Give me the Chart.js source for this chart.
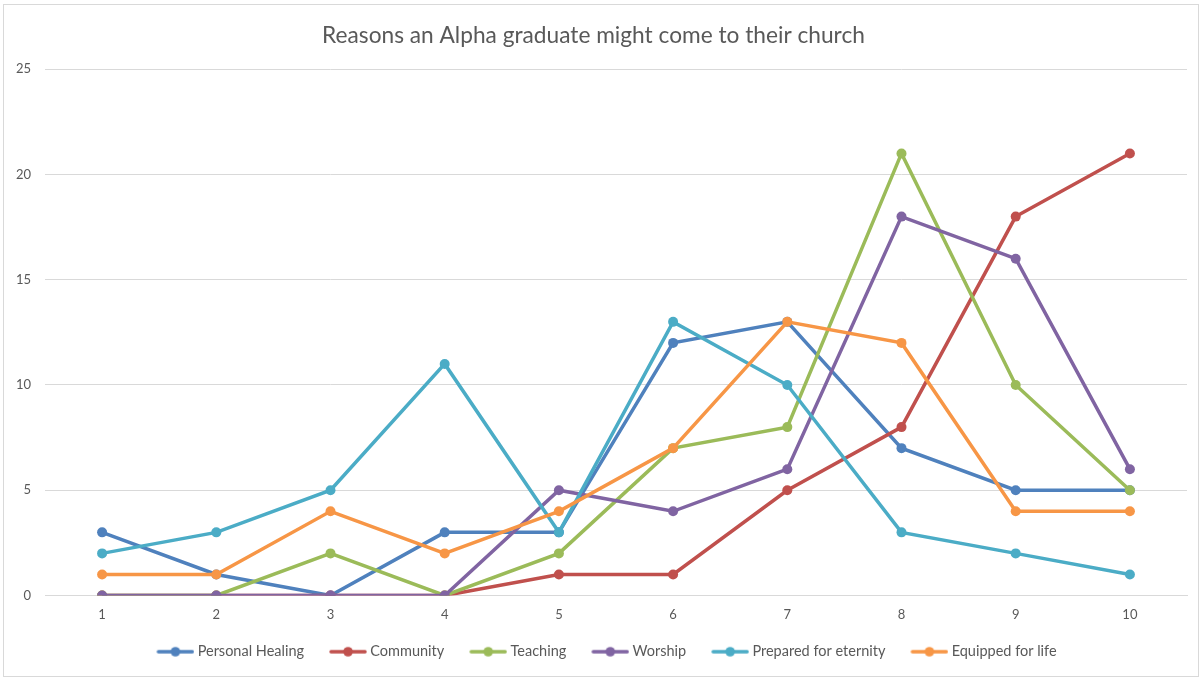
<!DOCTYPE html>
<html>
<head>
<meta charset="utf-8">
<script src="https://cdn.jsdelivr.net/npm/chart.js@4.4.0/dist/chart.umd.min.js"></script>
<style>
  html, body { margin: 0; padding: 0; background: #fff; }
  #wrap { position: relative; width: 1203px; height: 677px; }
</style>
</head>
<body>
<div id="wrap"><canvas id="reasons-chart" width="1203" height="677"></canvas></div>
<script>
const categories = ['1', '2', '3', '4', '5', '6', '7', '8', '9', '10'];

const personalHealing = [3, 1, 0, 3, 3, 12, 13, 7, 5, 5];
const community       = [0, 0, 0, 0, 1, 1, 5, 8, 18, 21];
const teaching        = [0, 0, 2, 0, 2, 7, 8, 21, 10, 5];
const worship         = [0, 0, 0, 0, 5, 4, 6, 18, 16, 6];
const eternity        = [2, 3, 5, 11, 3, 13, 10, 3, 2, 1];
const equipped        = [1, 1, 4, 2, 4, 7, 13, 12, 4, 4];

const seriesNames = ['Personal Healing', 'Community', 'Teaching', 'Worship', 'Prepared for eternity', 'Equipped for life'];
const seriesValues = [personalHealing, community, teaching, worship, eternity, equipped];
const seriesColors = ['#4f81bd', '#c0504d', '#9bbb59', '#8064a2', '#4bacc6', '#f79646'];

const yTicks = [0, 5, 10, 15, 20, 25];

const FONT = 'Lato, "Open Sans", sans-serif';
const GREY_TEXT = '#595959';

// legend marker: line with a dot, drawn into an image wider than the
// legend box so it sits close to the label text
const SWATCH_BOX = 44;
function makeSwatch(color) {
    const c = document.createElement('canvas');
    c.width = 52;
    c.height = 12;
    const g = c.getContext('2d');
    g.strokeStyle = color;
    g.lineWidth = 3.5;
    g.lineCap = 'round';
    g.beginPath();
    g.moveTo(16, 6);
    g.lineTo(50, 6);
    g.stroke();
    g.fillStyle = color;
    g.beginPath();
    g.arc(33, 6, 4.8, 0, Math.PI * 2);
    g.fill();
    return c;
}
const swatches = seriesColors.map(makeSwatch);

const frame = {
    id: 'frame',
    beforeDraw(chart) {
        const ctx = chart.ctx;
        ctx.save();
        ctx.fillStyle = '#fff';
        ctx.fillRect(0, 0, chart.width, chart.height);
        ctx.strokeStyle = '#d9d9d9';
        ctx.lineWidth = 1;
        ctx.strokeRect(3.5, 4.5, 1195, 672);
        ctx.restore();
    }
};

// nudge the legend row a little to the right
const legendShift = {
    id: 'legendShift',
    afterLayout(chart) {
        const lg = chart.legend;
        if (lg) {
            lg.left += 8;
            lg.right += 8;
        }
    }
};

document.addEventListener('DOMContentLoaded', function() {
    const ctx = document.getElementById('reasons-chart').getContext('2d');

    new Chart(ctx, {
        type: 'line',
        data: {
            labels: categories,
            datasets: seriesNames.map((name, i) => ({
                label: name,
                data: seriesValues[i],
                borderColor: seriesColors[i],
                backgroundColor: seriesColors[i],
                borderWidth: 3.5,
                pointRadius: 5,
                pointHoverRadius: 5,
                pointBorderWidth: 0,
                tension: 0,
                fill: false,
                // later series sit on top
                order: seriesNames.length - i
            }))
        },
        options: {
            responsive: false,
            animation: false,
            layout: { padding: { left: 0, right: 16, top: 5, bottom: 8 } },
            scales: {
                x: {
                    offset: true,
                    grid: { display: false, drawTicks: false },
                    border: { display: true, color: '#d9d9d9' },
                    ticks: { color: GREY_TEXT, font: { family: FONT, size: 13 }, padding: 12 },
                    afterFit(scale) { scale.height = 34; }
                },
                y: {
                    min: 0,
                    max: 25,
                    afterBuildTicks(scale) { scale.ticks = yTicks.map(v => ({ value: v })); },
                    grid: { color: '#d9d9d9', lineWidth: 1, drawTicks: false },
                    border: { display: false },
                    ticks: { color: GREY_TEXT, font: { family: FONT, size: 13 }, padding: 14 },
                    afterFit(scale) { scale.width = 45; }
                }
            },
            plugins: {
                title: {
                    display: true,
                    text: 'Reasons an Alpha graduate might come to their church',
                    color: GREY_TEXT,
                    font: { family: FONT, size: 22.7, weight: 'normal' },
                    padding: { top: 17, bottom: 20 }
                },
                legend: {
                    position: 'bottom',
                    labels: {
                        color: GREY_TEXT,
                        font: { family: FONT, size: 14.5 },
                        usePointStyle: true,
                        pointStyleWidth: SWATCH_BOX,
                        boxHeight: 12,
                        padding: 15,
                        generateLabels(chart) {
                            return chart.data.datasets.map((ds, i) => ({
                                text: ds.label,
                                pointStyle: swatches[i],
                                fillStyle: seriesColors[i],
                                strokeStyle: seriesColors[i],
                                lineWidth: 0,
                                fontColor: GREY_TEXT,
                                hidden: !chart.isDatasetVisible(i),
                                datasetIndex: i
                            }));
                        }
                    }
                },
                tooltip: { enabled: false }
            }
        },
        plugins: [frame, legendShift]
    });
});
</script>
</body>
</html>
